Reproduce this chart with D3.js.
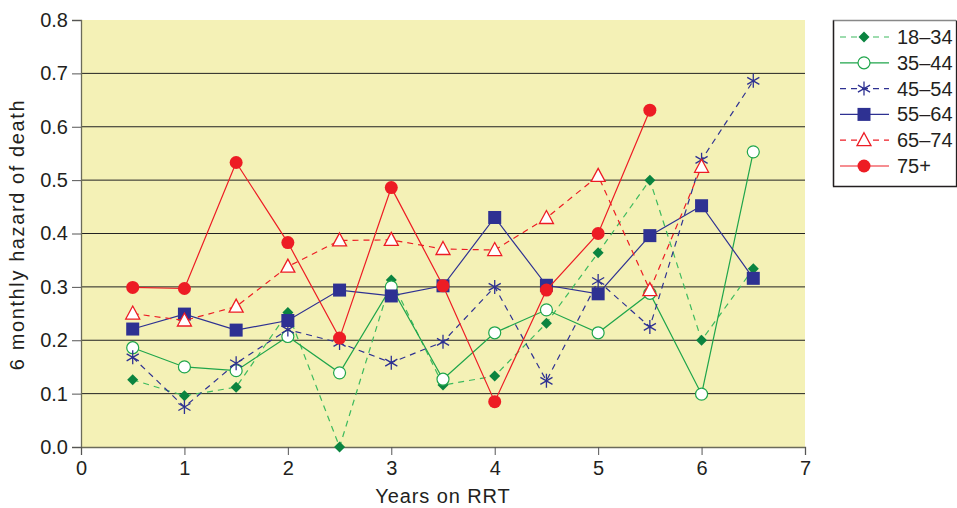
<!DOCTYPE html>
<html>
<head>
<meta charset="utf-8">
<script src="https://cdn.jsdelivr.net/npm/d3@7"></script>
<style>
  body { margin: 0; background: #fff; }
  svg { display: block; font-family: "Liberation Sans", Arial, sans-serif; }
</style>
</head>
<body>
<div id="chart"></div>
<script>
// years on RRT at each 6 month point
const years = [0.5, 1, 1.5, 2, 2.5, 3, 3.5, 4, 4.5, 5, 5.5, 6, 6.5];

// 6 monthly hazard of death per age group (null = no value)
const age18to34 = [0.126, 0.096, 0.112, 0.252, 0.0, 0.313, 0.116, 0.133, 0.232, 0.364, 0.5, 0.2, 0.334];
const age35to44 = [0.186, 0.15, 0.143, 0.207, 0.139, 0.3, 0.127, 0.214, 0.257, 0.214, 0.288, 0.099, 0.553];
const age45to54 = [0.168, 0.075, 0.157, 0.22, 0.195, 0.158, 0.197, 0.3, 0.124, 0.311, 0.225, 0.538, 0.686];
const age55to64 = [0.221, 0.249, 0.219, 0.237, 0.294, 0.283, 0.302, 0.43, 0.303, 0.287, 0.396, 0.452, 0.316];
const age65to74 = [0.25, 0.237, 0.263, 0.338, 0.387, 0.388, 0.371, 0.369, 0.429, 0.508, 0.294, 0.525, null];
const age75plus = [0.299, 0.297, 0.533, 0.383, 0.204, 0.486, 0.302, 0.085, 0.294, 0.4, 0.631, null, null];

const seriesNames = ["18–34", "35–44", "45–54", "55–64", "65–74", "75+"];
const yTicks = [0, 0.1, 0.2, 0.3, 0.4, 0.5, 0.6, 0.7, 0.8];
const xTicks = [0, 1, 2, 3, 4, 5, 6, 7];

const green = "#1fa54b", darkGreen = "#0b8440", blue = "#2e3192", red = "#ed1c24";

const series = [
  { name: seriesNames[0], values: age18to34, color: "#3dba5e", markColor: darkGreen, dash: "6,5", mark: "diamond" },
  { name: seriesNames[1], values: age35to44, color: green, markColor: green, dash: null, mark: "circleOpen" },
  { name: seriesNames[2], values: age45to54, color: blue, markColor: blue, dash: "6,5", mark: "star" },
  { name: seriesNames[3], values: age55to64, color: blue, markColor: blue, dash: null, mark: "square" },
  { name: seriesNames[4], values: age65to74, color: red, markColor: red, dash: "6,5", mark: "triangle" },
  { name: seriesNames[5], values: age75plus, color: red, markColor: red, dash: null, mark: "circle" },
];

const width = 957, height = 508;
const margin = { top: 20, right: 152, bottom: 61, left: 81 };
const plotW = width - margin.left - margin.right;
const plotH = height - margin.top - margin.bottom;

const svg = d3.select("#chart").append("svg")
  .attr("width", width)
  .attr("height", height);

const x = d3.scaleLinear().domain([0, 7]).range([margin.left, margin.left + plotW]);
const y = d3.scaleLinear().domain([0, 0.8]).range([margin.top + plotH, margin.top]);

// plot background
svg.append("rect")
  .attr("x", x(0)).attr("y", y(0.8))
  .attr("width", x(7) - x(0)).attr("height", y(0) - y(0.8))
  .attr("fill", "#f4f1b6");

// gridlines
svg.append("g")
  .selectAll("line")
  .data(yTicks.filter(d => d > 0 && d < 0.8))
  .join("line")
  .attr("x1", x(0)).attr("x2", x(7))
  .attr("y1", d => y(d)).attr("y2", d => y(d))
  .attr("stroke", "#222").attr("stroke-width", 1);

// axes
const yAxis = svg.append("g")
  .attr("transform", `translate(${x(0)},0)`)
  .call(d3.axisLeft(y).tickValues(yTicks).tickFormat(d3.format(".1f")).tickSize(9).tickPadding(4));
const xAxis = svg.append("g")
  .attr("transform", `translate(0,${y(0)})`)
  .call(d3.axisBottom(x).tickValues(xTicks).tickFormat(d3.format("d")).tickSize(8).tickPadding(6));

[yAxis, xAxis].forEach(g => {
  g.select(".domain").attr("stroke", "#6b6b5a").attr("stroke-width", 1.3);
  g.selectAll(".tick line").attr("stroke", "#555");
  g.selectAll("text").attr("fill", "#231f20").attr("font-size", 20)
    .attr("font-family", "Liberation Sans, Arial, sans-serif");
});

// axis titles
svg.append("text")
  .attr("x", x(3.5)).attr("y", 503)
  .attr("text-anchor", "middle")
  .attr("font-size", 20).attr("letter-spacing", 0.9).attr("fill", "#231f20")
  .text("Years on RRT");

svg.append("text")
  .attr("transform", `translate(24,${y(0.4) + 1}) rotate(-90)`)
  .attr("text-anchor", "middle")
  .attr("font-size", 20).attr("letter-spacing", 1.6).attr("fill", "#231f20")
  .text("6 monthly hazard of death");

// marker drawing
function drawMark(g, type, color, cx, cy) {
  if (type === "diamond") {
    g.append("path").attr("d", `M${cx},${cy - 5.5}L${cx + 5.5},${cy}L${cx},${cy + 5.5}L${cx - 5.5},${cy}Z`)
      .attr("fill", color);
  } else if (type === "circleOpen") {
    g.append("circle").attr("cx", cx).attr("cy", cy).attr("r", 6)
      .attr("fill", "#fff").attr("stroke", color).attr("stroke-width", 1.2);
  } else if (type === "star") {
    const r = 7;
    const p = d3.path();
    [90, 30, -30].forEach(a => {
      const t = a * Math.PI / 180;
      p.moveTo(cx - r * Math.cos(t), cy - r * Math.sin(t));
      p.lineTo(cx + r * Math.cos(t), cy + r * Math.sin(t));
    });
    g.append("path").attr("d", p.toString()).attr("stroke", color).attr("stroke-width", 1.3).attr("fill", "none");
  } else if (type === "square") {
    g.append("rect").attr("x", cx - 6.5).attr("y", cy - 6.5).attr("width", 13).attr("height", 13)
      .attr("fill", color);
  } else if (type === "triangle") {
    g.append("path")
      .attr("d", `M${cx},${cy - 7.5}L${cx + 7},${cy + 5.5}L${cx - 7},${cy + 5.5}Z`)
      .attr("fill", "#fff").attr("stroke", color).attr("stroke-width", 1.3);
  } else if (type === "circle") {
    g.append("circle").attr("cx", cx).attr("cy", cy).attr("r", 6.5).attr("fill", color);
  }
}

const line = d3.line()
  .defined(d => d.v != null)
  .x(d => x(d.t))
  .y(d => y(d.v));

series.forEach(s => {
  const pts = years.map((t, i) => ({ t: t, v: s.values[i] }));
  const g = svg.append("g");
  g.append("path")
    .datum(pts)
    .attr("d", line)
    .attr("fill", "none")
    .attr("stroke", s.color)
    .attr("stroke-width", 1.2)
    .attr("stroke-dasharray", s.dash);
  pts.filter(d => d.v != null).forEach(d => drawMark(g, s.mark, s.markColor, x(d.t), y(d.v)));
});

// legend
const legend = svg.append("g");
legend.append("path")
  .attr("d", "M833.5,186V20.5H956")
  .attr("fill", "none").attr("stroke", "#888").attr("stroke-width", 1.5);
legend.append("path")
  .attr("d", "M833.5,20.5V186.5H956.5V20.5")
  .attr("fill", "none").attr("stroke", "#231f20").attr("stroke-width", 1.3);

series.forEach((s, i) => {
  const ly = 37 + i * 25.8;
  const g = legend.append("g");
  g.append("line")
    .attr("x1", 840).attr("x2", 889).attr("y1", ly).attr("y2", ly)
    .attr("stroke", s.color).attr("stroke-width", 1.2)
    .attr("stroke-dasharray", s.dash);
  drawMark(g, s.mark, s.markColor, 864, ly);
  g.append("text")
    .attr("x", 897).attr("y", ly + 7)
    .attr("font-size", 20).attr("fill", "#231f20")
    .text(s.name);
});
</script>
</body>
</html>
